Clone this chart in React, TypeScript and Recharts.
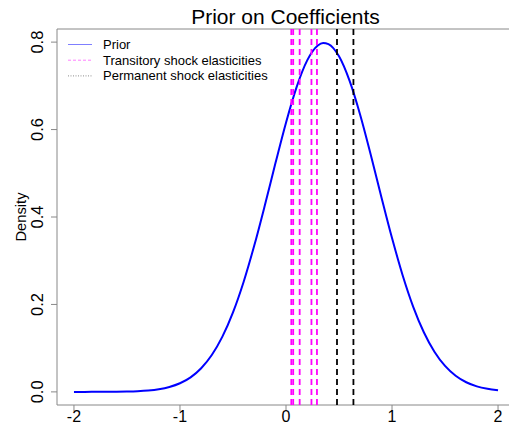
import React from "react";
import { LineChart, Line, XAxis, YAxis, ReferenceLine, ReferenceArea } from "recharts";

const FONT = '"Liberation Sans", Arial, Helvetica, sans-serif';

// prior density, read at 0.1 steps across [-2, 2]
const xs = [
  -2.0, -1.9, -1.8, -1.7, -1.6, -1.5, -1.4, -1.3, -1.2, -1.1, -1.0, -0.9, -0.8, -0.7, -0.6, -0.5, -0.4, -0.3, -0.2,
  -0.1, 0.0, 0.1, 0.2, 0.3, 0.35, 0.4, 0.5, 0.6, 0.7, 0.8, 0.9, 1.0, 1.1, 1.2, 1.3, 1.4, 1.5, 1.6, 1.7, 1.8, 1.9, 2.0,
];
const density = [
  0.0, 0.0, 0.0001, 0.0002, 0.0004, 0.0008, 0.0016, 0.0032, 0.0061, 0.0112, 0.0197, 0.0333, 0.0541, 0.0843, 0.1263,
  0.1818, 0.2514, 0.334, 0.4262, 0.5227, 0.6158, 0.6972, 0.7582, 0.7923, 0.798, 0.7954, 0.7674, 0.7112, 0.6333, 0.5418,
  0.4454, 0.3518, 0.2669, 0.1946, 0.1363, 0.0918, 0.0593, 0.0369, 0.022, 0.0126, 0.007, 0.0037,
];

const transitory = [0.05, 0.068, 0.129, 0.24, 0.292];
const permanent = [0.481, 0.636];

const xTicks = [-2, -1, 0, 1, 2];
const yTicks = [0, 0.2, 0.4, 0.6, 0.8];

const legendItems = [
  { label: "Prior", color: "#0000ff", dash: undefined as string | undefined, op: 0.5 },
  { label: "Transitory shock elasticities", color: "#ff00ff", dash: "3 2", op: 0.5 },
  { label: "Permanent shock elasticities", color: "#000000", dash: "1 1.5", op: 0.45 },
];

const data = xs.map((x, i) => ({ x, y: density[i] }));

const XTick = (props: any) => {
  const { x, y, payload } = props;
  return (
    <text x={x} y={y + 8.5} textAnchor="middle" fontSize={16} fontFamily={FONT} fill="#000">
      {payload.value}
    </text>
  );
};

const YTick = (props: any) => {
  const { y, payload } = props;
  return (
    <text
      x={43}
      y={y}
      transform={`rotate(-90, 43, ${y})`}
      textAnchor="middle"
      fontSize={16.5}
      fontFamily={FONT}
      fill="#000"
    >
      {payload.value.toFixed(1)}
    </text>
  );
};

export default function App() {
  return (
    <div
      style={{
        position: "absolute",
        left: 0,
        top: 0,
        width: 509,
        height: 425,
        overflow: "hidden",
        background: "#fff",
      }}
    >
      <LineChart width={515} height={425} data={data} margin={{ top: 29, right: 0, bottom: 0, left: 0 }}>
        <XAxis
          dataKey="x"
          type="number"
          domain={[-2.16, 2.16]}
          ticks={xTicks}
          interval={0}
          allowDataOverflow
          height={20}
          axisLine={false}
          tickLine={{ stroke: "#888" }}
          tickSize={6}
          tick={<XTick />}
        />
        <YAxis
          type="number"
          domain={[-0.03, 0.83]}
          ticks={yTicks}
          interval={0}
          allowDataOverflow
          width={57}
          axisLine={false}
          tickLine={{ stroke: "#888" }}
          tickSize={6}
          tick={<YTick />}
        />
        <ReferenceArea x1={-2.16} x2={2.16} y1={-0.03} y2={0.83} fill="none" stroke="#888" strokeWidth={1} />
        <Line
          type="monotone"
          dataKey="y"
          stroke="#0000ff"
          strokeWidth={2}
          dot={false}
          isAnimationActive={false}
        />
        {transitory.map((v) => (
          <ReferenceLine key={`t-${v}`} x={v} stroke="#ff00ff" strokeWidth={1.8} strokeDasharray="6 4" />
        ))}
        {permanent.map((v) => (
          <ReferenceLine key={`p-${v}`} x={v} stroke="#000" strokeWidth={1.8} strokeDasharray="6 4" />
        ))}
      </LineChart>
      <svg
        width={509}
        height={425}
        style={{ position: "absolute", left: 0, top: 0, pointerEvents: "none" }}
      >
        <text x={285.5} y={24} textAnchor="middle" fontSize={21} fontFamily={FONT} fill="#000">
          Prior on Coefficients
        </text>
        <text
          x={26}
          y={217}
          transform="rotate(-90, 26, 217)"
          textAnchor="middle"
          fontSize={14.7}
          fontFamily={FONT}
          fill="#000"
        >
          Density
        </text>
        {legendItems.map((it, i) => {
          const base = 49 + i * 15.7;
          return (
            <g key={it.label}>
              <line
                x1={68}
                x2={92}
                y1={base - 4.5}
                y2={base - 4.5}
                stroke={it.color}
                strokeWidth={1}
                strokeOpacity={it.op}
                strokeDasharray={it.dash}
              />
              <text x={103} y={base} fontSize={13} fontFamily={FONT} fill="#000">
                {it.label}
              </text>
            </g>
          );
        })}
      </svg>
    </div>
  );
}
